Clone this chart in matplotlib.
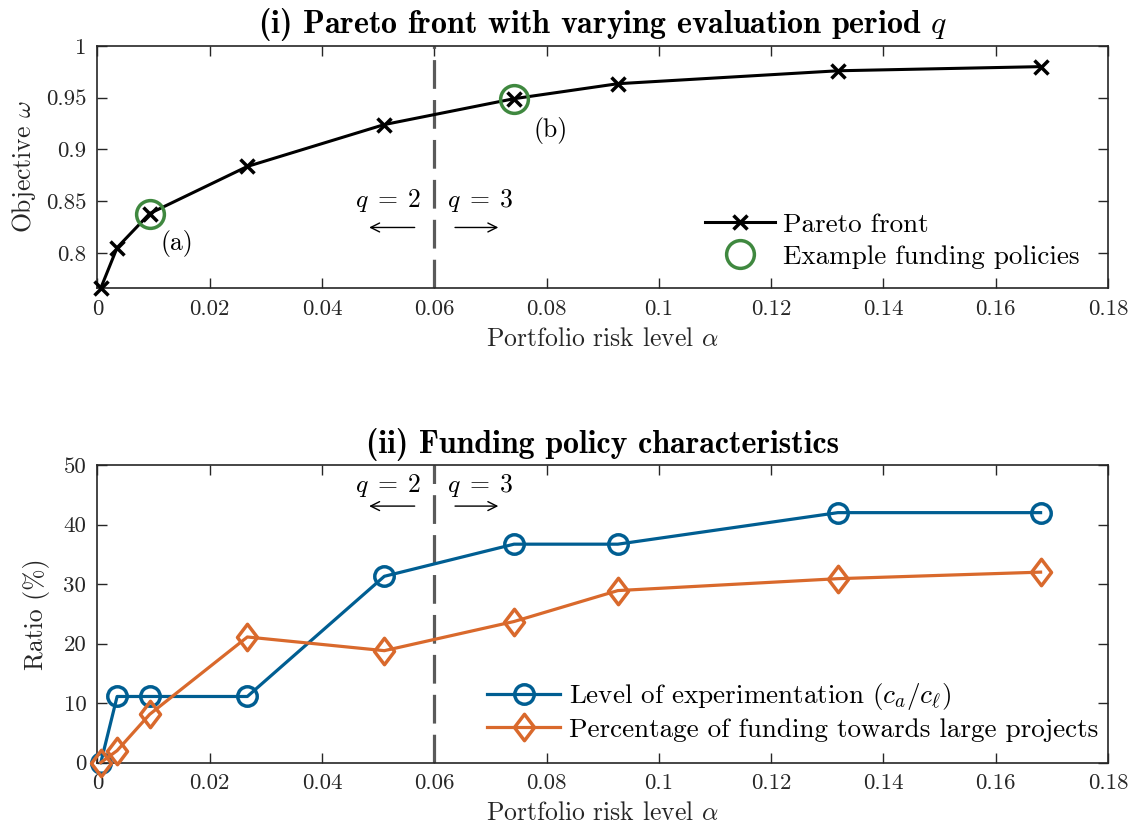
import matplotlib.pyplot as plt
import numpy as np
from matplotlib.path import Path
from matplotlib.ticker import FuncFormatter

plt.rcParams['font.family'] = 'cmr10'
plt.rcParams['mathtext.fontset'] = 'cm'
plt.rcParams['axes.formatter.use_mathtext'] = True

# risk level of each Pareto-optimal policy
alpha = [0.0006, 0.0035, 0.0093, 0.0267, 0.0511, 0.0742, 0.0927, 0.1319, 0.168]
# objective value of the front
omega = [0.766, 0.805, 0.838, 0.8835, 0.924, 0.949, 0.9635, 0.976, 0.980]
# the two example policies (a) and (b)
example_idx = [2, 5]
example_labels = ['(a)', '(b)']

# policy characteristics in percent
experimentation = [0, 11.1, 11.1, 11.1, 31.3, 36.7, 36.7, 42.0, 42.0]
large_share = [0, 2.0, 8.1, 21.1, 18.8, 23.7, 28.9, 30.9, 32.0]

q_switch = 0.06

blue = '#005e92'
orange = '#d9692c'
green = '#3f883f'
axcol = '#262626'
dashcol = '#5a5a5a'

# slightly narrow diamond, like the MATLAB one
diamond = Path([(0, 1), (0.76, 0), (0, -1), (-0.76, 0), (0, 1)],
               [Path.MOVETO, Path.LINETO, Path.LINETO, Path.LINETO, Path.CLOSEPOLY])

fig = plt.figure(figsize=(11.36, 8.34), dpi=100)
ax1 = fig.add_axes([0.0858, 0.6547, 0.8895, 0.2902])
ax2 = fig.add_axes([0.0858, 0.0857, 0.8895, 0.3567])

fmt = FuncFormatter(lambda v, p: '%g' % round(v, 4))
FS_TICK, FS_LAB, FS_LEG, FS_TITLE = 16.5, 18.5, 19.5, 23


def style(ax):
    for s in ax.spines.values():
        s.set_color(axcol)
        s.set_linewidth(1.2)
    ax.tick_params(direction='in', top=True, right=True, length=7, width=1.0,
                   color=axcol, labelcolor=axcol, labelsize=FS_TICK, pad=8)
    ax.set_xlim(0, 0.18)
    ax.set_xticks(np.arange(0, 0.181, 0.02))
    ax.xaxis.set_major_formatter(fmt)
    ax.yaxis.set_major_formatter(fmt)
    ax.set_xlabel(r'Portfolio risk level $\alpha$', fontsize=FS_LAB, color=axcol, labelpad=6)


def q_marks(ax, y_txt, y_arr):
    ax.axvline(q_switch, color=dashcol, ls=(0, (9, 3.5)), lw=2.3)
    ax.text(0.0578, y_txt, r'$q\;=\;2$', fontsize=FS_LAB, ha='right', va='center')
    ax.text(0.0622, y_txt, r'$q\;=\;3$', fontsize=FS_LAB, ha='left', va='center')
    arr = dict(arrowstyle='->', lw=1.0, color='black', mutation_scale=16)
    ax.annotate('', xy=(0.0479, y_arr), xytext=(0.0570, y_arr), arrowprops=arr)
    ax.annotate('', xy=(0.0719, y_arr), xytext=(0.0632, y_arr), arrowprops=arr)


# (i) Pareto front
ax1.plot(alpha, omega, color='black', lw=2.2, marker='x', ms=10, mew=2.5,
         label='Pareto front', clip_on=False, zorder=3)
ax1.plot([alpha[i] for i in example_idx], [omega[i] for i in example_idx], 'o',
         mfc='none', mec=green, ms=20, mew=2.5, label='Example funding policies',
         zorder=4)
q_marks(ax1, 0.851, 0.8245)
ax1.text(0.0141, 0.809, example_labels[0], fontsize=FS_LAB, ha='center', va='center')
ax1.text(0.0808, 0.918, example_labels[1], fontsize=FS_LAB, ha='center', va='center')
ax1.set_ylim(omega[0], 1)
ax1.set_yticks([0.8, 0.85, 0.9, 0.95, 1])
style(ax1)
ax1.set_ylabel(r'Objective $\omega$', fontsize=FS_LAB, color=axcol, labelpad=6)
ax1.set_title(r'(i) Pareto front with varying evaluation period $q$',
              fontfamily='cmb10', fontsize=FS_TITLE, pad=9)
ax1.legend(loc='lower right', bbox_to_anchor=(0.972, 0.08), frameon=False,
           fontsize=FS_LEG, handlelength=2.6, handletextpad=0.3,
           labelspacing=0.3, borderpad=0, borderaxespad=0)

# (ii) funding policy characteristics
ax2.plot(alpha, experimentation, color=blue, lw=2.3, marker='o', ms=14, mew=2.5,
         mfc='none', label=r'Level of experimentation $(c_a/c_\ell)$',
         clip_on=False, zorder=3)
ax2.plot(alpha, large_share, color=orange, lw=2.3, marker=diamond, ms=19, mew=2.5,
         mfc='none', label='Percentage of funding towards large projects',
         clip_on=False, zorder=3)
q_marks(ax2, 46.6, 43.1)
ax2.set_ylim(0, 50)
ax2.set_yticks(range(0, 51, 10))
style(ax2)
ax2.set_ylabel('Ratio (%)', fontsize=FS_LAB, color=axcol, labelpad=10)
ax2.set_title('(ii) Funding policy characteristics',
              fontfamily='cmb10', fontsize=FS_TITLE, pad=9)
ax2.legend(loc='lower right', bbox_to_anchor=(0.99, 0.07), frameon=False,
           fontsize=FS_LEG, handlelength=2.7, handletextpad=0.3,
           labelspacing=0.2, borderpad=0, borderaxespad=0)

fig.savefig('out.png', dpi=100)
